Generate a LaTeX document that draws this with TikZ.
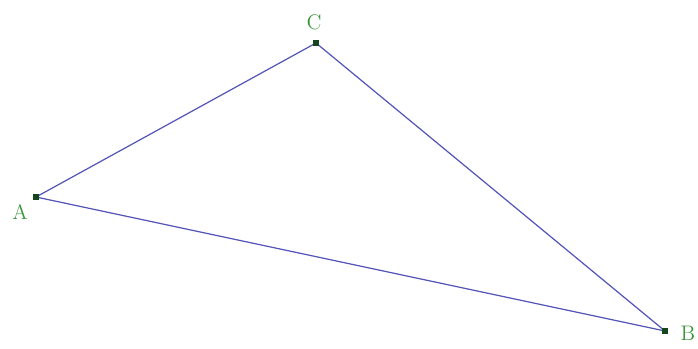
\documentclass[tikz,border=0pt]{standalone}
\usepackage{xcolor}
\usepackage{tikz}
\usetikzlibrary{arrows.meta}

\definecolor{sideblue}{RGB}{85,85,185}
\definecolor{labelgreen}{RGB}{60,150,60}
\definecolor{dotgreen}{RGB}{20,70,30}

\begin{document}
\begin{tikzpicture}[x=0.02cm, y=-0.02cm, line width=0.7pt,
    vertex/.style={fill=dotgreen, inner sep=0pt, minimum size=3.5pt, rectangle},
    vlabel/.style={text=labelgreen, font=\fontsize{12}{14}\selectfont, inner sep=0pt}]

    % frame of the picture
    \useasboundingbox (0,0) rectangle (698,349);

    % ==========================================
    % Vertices
    % ==========================================
    \coordinate (A) at (36,197);
    \coordinate (C) at (316,43);
    \coordinate (B) at (665,331);

    % ==========================================
    % Sides of the triangle
    % ==========================================
    \draw[sideblue] (A) -- (C);
    \draw[sideblue] (C) -- (B);
    \draw[sideblue] (B) -- (A);

    % Dots on the vertices
    \node[vertex] (dotA) at (A) {};
    \node[vertex] (dotC) at (C) {};
    \node[vertex] (dotB) at (B) {};

    % Vertex labels
    \node[vlabel] (labA) at (20,212) {A};
    \node[vlabel] (labC) at (314,22) {C};
    \node[vlabel] (labB) at (688,333) {B};

\end{tikzpicture}
\end{document}
